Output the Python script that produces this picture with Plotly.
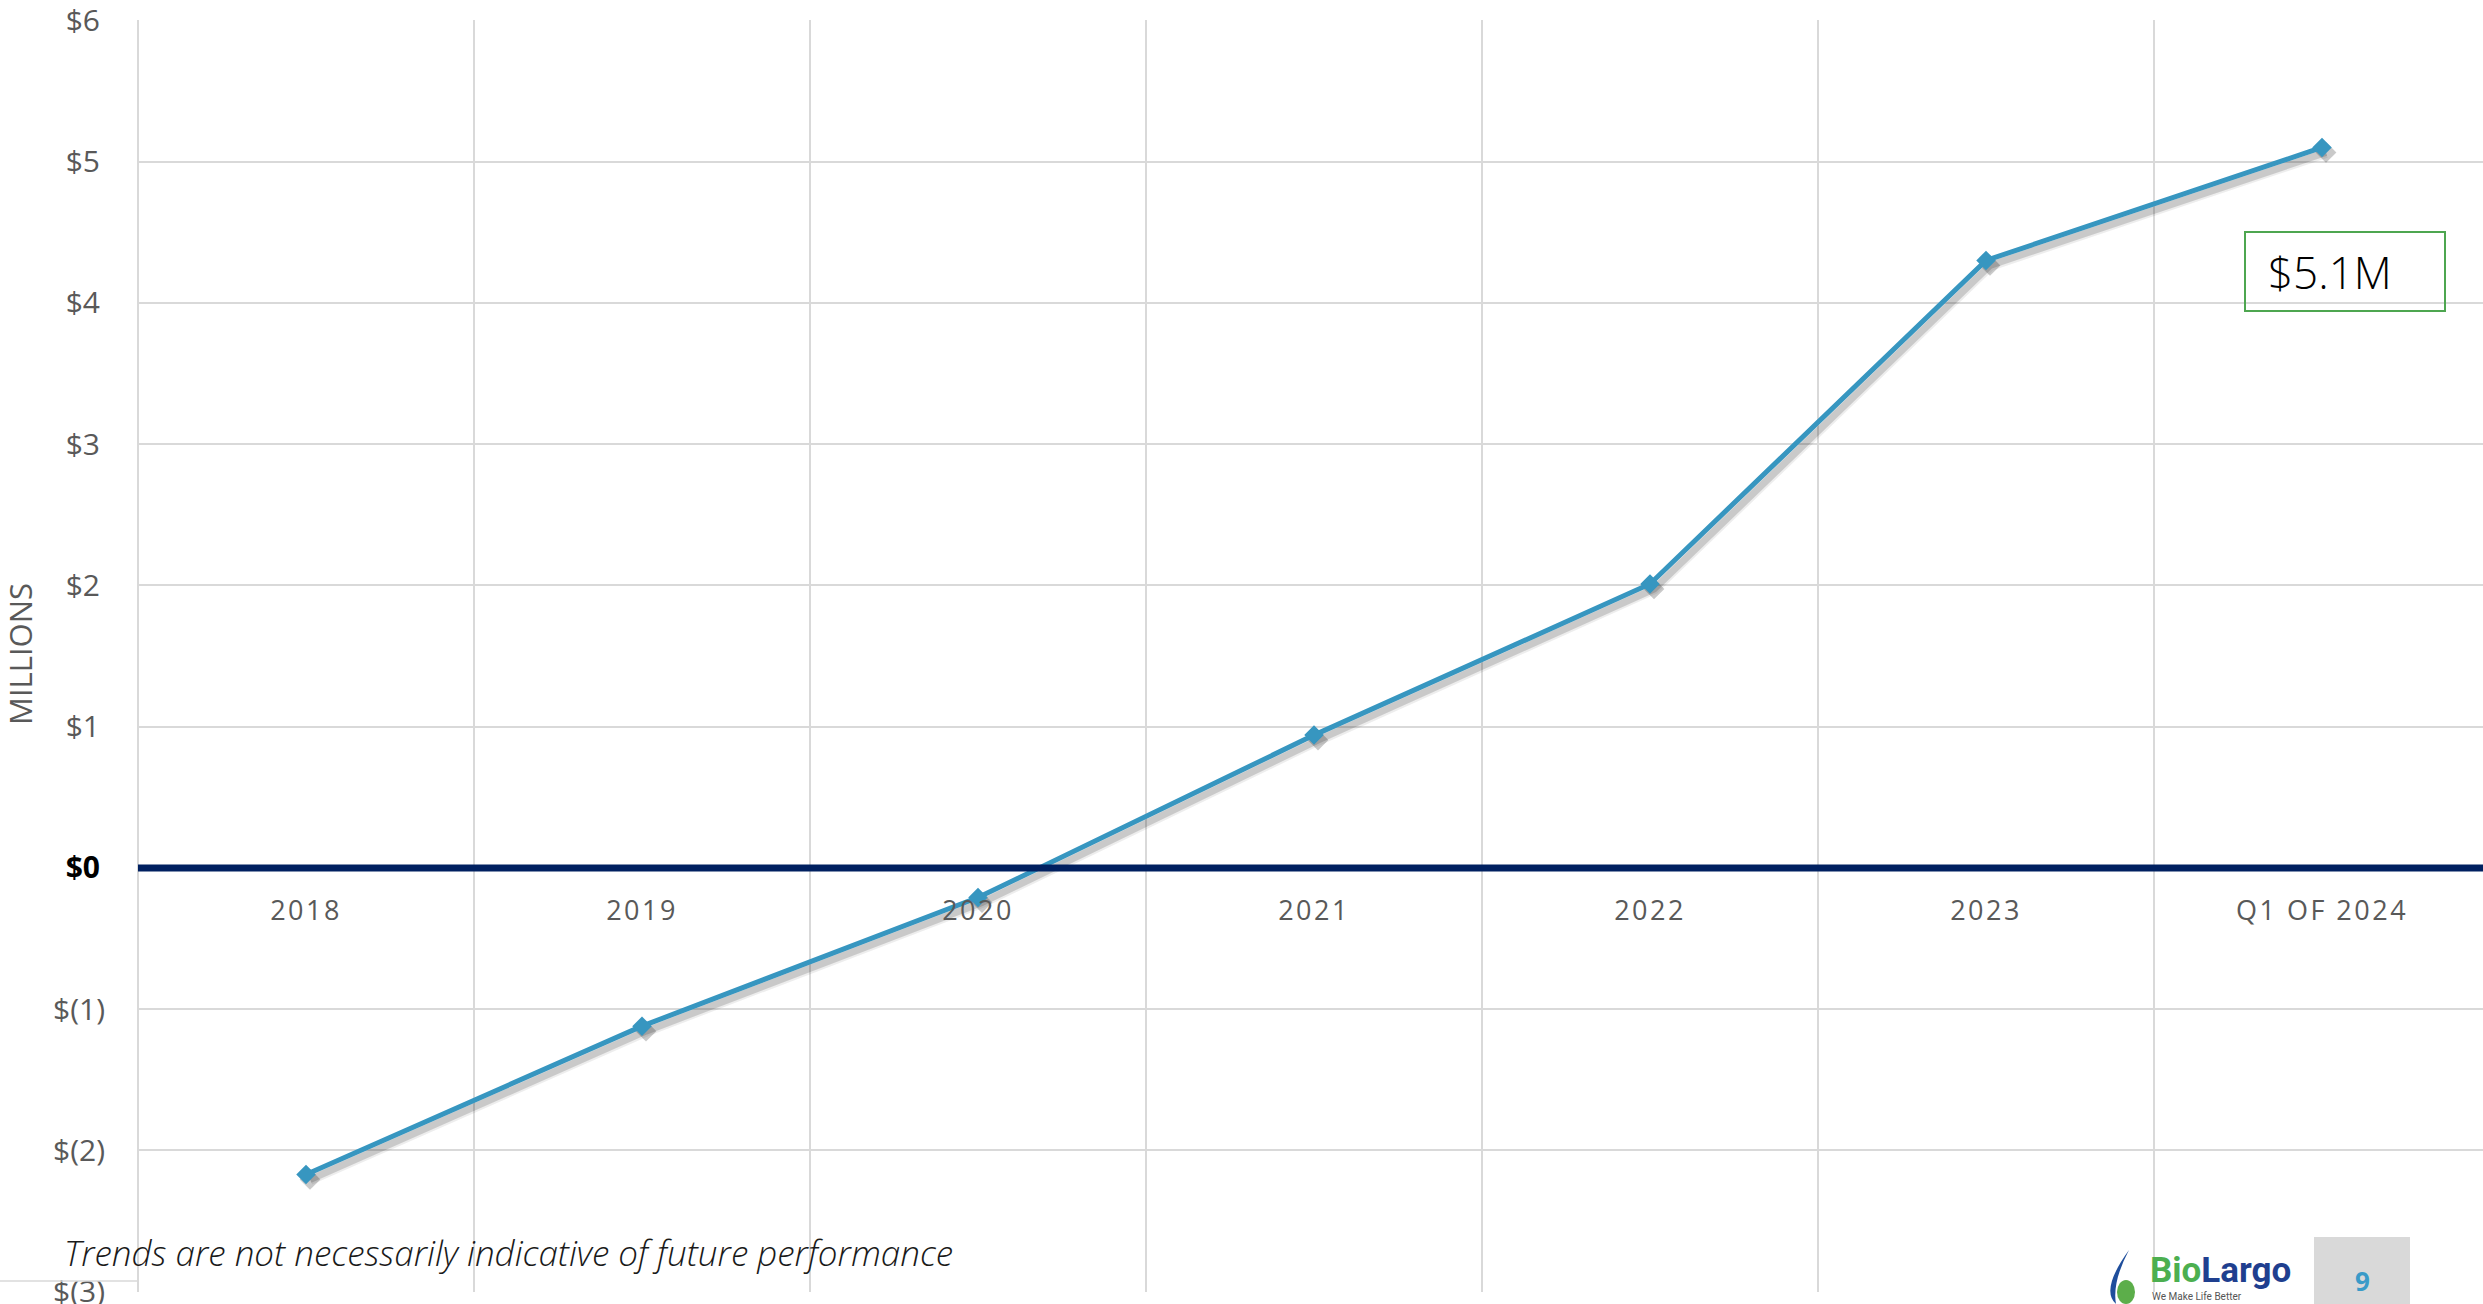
import plotly.graph_objects as go

# ---------------- data ----------------
categories = ["2018", "2019", "2020", "2021", "2022", "2023", "Q1 OF 2024"]
values = [-2.17, -1.12, -0.21, 0.94, 2.01, 4.30, 5.10]
y_tick_vals = [-3, -2, -1, 0, 1, 2, 3, 4, 5, 6]
y_tick_text = ["$(3)", "$(2)", "$(1)", "$0", "$1", "$2", "$3", "$4", "$5", "$6"]
axis_title = "MILLIONS"
callout_text = "$5.1M"
footnote = "Trends are not necessarily indicative of future performance"
page_number = "9"

# ---------------- layout geometry ----------------
W, H = 2483, 1304
ML, MR, MT, MB = 138, 0, 20, 12
PW, PH = W - ML - MR, H - MT - MB
YMIN, YMAX = -3, 6
YPAD = 0.002
CAT_PX = 336.0
XMIN = -0.5
XMAX = XMIN + PW / CAT_PX


def px_x(px):
    return (px - ML) / PW


def px_y(py):
    return (H - MB - py) / PH


LINE_COLOR = "#3796C0"
GRID = "#D9D9D9"
TXT = "#595959"

ticktext = []
for v, t in zip(y_tick_vals, y_tick_text):
    if v == 0:
        ticktext.append("<b><span style='color:#000000'>%s</span></b>\u2009" % t)
    elif v > 0:
        ticktext.append(t + "\u2009")
    else:
        ticktext.append(t)

x_ticktext = ["<span style='letter-spacing:2.5px'>%s</span>" % c for c in categories]

fig = go.Figure()

# shadow traces (same data on slightly shifted overlay axes)
for w, a in [(11, 0.07), (7, 0.15)]:
    fig.add_trace(go.Scatter(
        x=categories, y=values, mode="lines+markers",
        line=dict(color="rgba(0,0,0,%s)" % a, width=w),
        marker=dict(symbol="diamond", size=16, color="rgba(0,0,0,%s)" % a),
        xaxis="x2", yaxis="y2", hoverinfo="skip", showlegend=False))

# main series
fig.add_trace(go.Scatter(
    x=categories, y=values, mode="lines+markers",
    line=dict(color=LINE_COLOR, width=5),
    marker=dict(symbol="diamond", size=15, color=LINE_COLOR),
    xaxis="x3", yaxis="y3", showlegend=False))

dx = 4 / CAT_PX
dy = 5 * (YMAX - YMIN) / PH

fig.update_layout(
    width=W, height=H,
    margin=dict(l=ML, r=MR, t=MT, b=MB, autoexpand=False),
    paper_bgcolor="white", plot_bgcolor="white",
    font=dict(family="Open Sans, Segoe UI, sans-serif", color=TXT),
    xaxis=dict(
        type="category", categoryorder="array", categoryarray=categories,
        tickvals=categories, ticktext=x_ticktext,
        range=[XMIN, XMAX], anchor="free", automargin=False,
        position=(0 - YMIN) / (YMAX - YMIN),
        showgrid=True, gridcolor=GRID, gridwidth=1.5,
        tickson="boundaries", ticks="", showline=False, zeroline=False,
        tickfont=dict(size=27, color=TXT), ticklabelstandoff=24,
    ),
    yaxis=dict(
        range=[YMIN - YPAD, YMAX + YPAD], tickvals=y_tick_vals, ticktext=ticktext,
        showgrid=True, gridcolor=GRID, gridwidth=1.5, zeroline=False,
        ticks="", showline=False, ticklabeloverflow="allow", automargin=False,
        tickfont=dict(size=30, color=TXT), ticklabelstandoff=32,
    ),
    xaxis2=dict(type="category", categoryorder="array", categoryarray=categories,
                overlaying="x", range=[XMIN - dx, XMAX - dx], visible=False),
    yaxis2=dict(overlaying="y", range=[YMIN - YPAD + dy, YMAX + YPAD + dy], visible=False),
    xaxis3=dict(type="category", categoryorder="array", categoryarray=categories,
                overlaying="x", range=[XMIN, XMAX], visible=False),
    yaxis3=dict(overlaying="y", range=[YMIN - YPAD, YMAX + YPAD], visible=False),
)

shapes = []
# left plot border (first category boundary)
shapes.append(dict(type="line", xref="paper", yref="paper", x0=0, x1=0, y0=0, y1=1,
                   line=dict(color=GRID, width=2), layer="below"))
# zero axis line, drawn on top
shapes.append(dict(type="line", xref="paper", yref="y", x0=0, x1=1, y0=0, y1=0,
                   line=dict(color="#002060", width=7), layer="above"))
# callout box
shapes.append(dict(type="rect", xref="paper", yref="paper",
                   x0=px_x(2245), x1=px_x(2445), y0=px_y(311), y1=px_y(232),
                   line=dict(color="#4EA650", width=2), fillcolor="rgba(0,0,0,0)"))
# footer line at left
shapes.append(dict(type="line", xref="paper", yref="paper",
                   x0=px_x(0), x1=px_x(ML), y0=px_y(1281), y1=px_y(1281),
                   line=dict(color=GRID, width=1.5)))
# page number box
shapes.append(dict(type="rect", xref="paper", yref="paper",
                   x0=px_x(2314), x1=px_x(2410), y0=px_y(1304), y1=px_y(1237),
                   line=dict(width=0), fillcolor="#D9D9D9", layer="above"))
# logo droplet
shapes.append(dict(type="path", xref="paper", yref="paper", layer="above",
                   path="M %f %f Q %f %f %f %f Q %f %f %f %f Z" % (
                       px_x(2129), px_y(1250),
                       px_x(2100), px_y(1290), px_x(2116), px_y(1304),
                       px_x(2112), px_y(1282), px_x(2129), px_y(1250)),
                   fillcolor="#1F4E9C", line=dict(width=0)))
shapes.append(dict(type="circle", xref="paper", yref="paper", layer="above",
                   x0=px_x(2117), x1=px_x(2135), y0=px_y(1304), y1=px_y(1280),
                   fillcolor="#5CAE4A", line=dict(width=0)))
fig.update_layout(shapes=shapes)

annotations = [
    dict(text=axis_title, textangle=-90, xref="paper", yref="paper",
         x=px_x(20), y=px_y(654), showarrow=False,
         font=dict(size=31, color=TXT), xanchor="center", yanchor="middle"),
    dict(text=callout_text, xref="paper", yref="paper",
         x=px_x(2266), y=px_y(272), showarrow=False, xanchor="left", yanchor="middle",
         font=dict(size=44, color="#000000", family="Open Sans, sans-serif", weight=300)),
    dict(text=footnote, xref="paper", yref="paper",
         x=px_x(62), y=px_y(1252), showarrow=False, xanchor="left", yanchor="middle",
         font=dict(size=35, color="#1A1A1A", style="italic", weight=300)),
    dict(text="<span style='color:#4CAF50'>Bio</span><span style='color:#1F3F8F'>Largo</span>",
         xref="paper", yref="paper", x=px_x(2148), y=px_y(1270), showarrow=False,
         xanchor="left", yanchor="middle",
         font=dict(size=35, family="Roboto, sans-serif", weight=700)),
    dict(text="We Make Life Better", xref="paper", yref="paper",
         x=px_x(2150), y=px_y(1296), showarrow=False, xanchor="left", yanchor="middle",
         font=dict(size=10, color="#555555", family="Roboto, sans-serif")),
    dict(text="<b>%s</b>" % page_number, xref="paper", yref="paper",
         x=px_x(2362), y=px_y(1281), showarrow=False, xanchor="center", yanchor="middle",
         font=dict(size=26, color="#3A9BC8", family="Open Sans, sans-serif")),
]
fig.update_layout(annotations=annotations)

no_scroll = ("document.documentElement.style.overflow='hidden';"
             "document.body.style.overflow='hidden';document.body.style.margin='0';")
fig.write_html("out.html", post_script=no_scroll)
